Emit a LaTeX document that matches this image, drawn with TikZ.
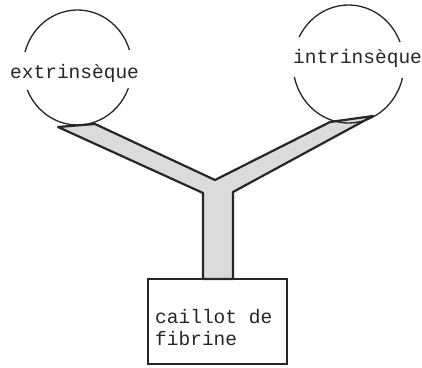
\documentclass[tikz,border=0pt]{standalone}
\usepackage{fontspec}
\setmonofont{Liberation Mono}
\usetikzlibrary{calc}
\begin{document}
\begin{tikzpicture}[x=1pt,y=1pt,
  lbl/.style={font=\ttfamily\fontsize{19.5}{21.7}\selectfont, inner sep=0pt, text=black!85},
  ring/.style={line width=1.3pt, draw=black!85},
  armst/.style={draw=black!85, line width=2.2pt, fill=black!14, line join=round},
  boxst/.style={draw=black!85, line width=1.3pt, minimum width=139pt, minimum height=85pt, inner sep=0pt}]
\useasboundingbox (0,0) rectangle (422,367);
% Y-shaped channel
\coordinate (ltip) at (58,240);
\coordinate (ltop) at (95,243);
\coordinate (notch) at (215,187);
\coordinate (rtop) at (330,245);
\coordinate (rtip) at (373,251);
\coordinate (sr) at (233,175);
\coordinate (srb) at (233,88);
\coordinate (slb) at (203,88);
\coordinate (sl) at (203,174);
\path[armst] (ltip) -- (ltop) -- (notch) -- (rtop) -- (rtip) -- (sr) -- (srb) -- (slb) -- (sl) -- cycle;
% circles
\coordinate (cl) at (77.5,299.5);
\coordinate (cr) at (348.5,303);
\draw[ring] ($(cl)+(17.7:54.5 and 57.5)$) arc[start angle=17.7, end angle=164.4, x radius=54.5, y radius=57.5];
\draw[ring] ($(cl)+(203:54.5 and 57.5)$) arc[start angle=203, end angle=339, x radius=54.5, y radius=57.5];
\draw[ring] ($(cr)+(21.9:55.5 and 59)$) arc[start angle=21.9, end angle=152.8, x radius=55.5, y radius=59];
\draw[ring] ($(cr)+(192.7:55.5 and 59)$) arc[start angle=192.7, end angle=346.3, x radius=55.5, y radius=59];
\node[lbl, anchor=base west] (ext) at (10,288) {extrinsèque};
\node[lbl, anchor=base west] (int) at (293,303.5) {intrinsèque};
% box
\node[boxst] (box) at (217.5,45.5) {};
\node[lbl, anchor=base west] (cf1) at (155,43.7) {caillot de};
\node[lbl, anchor=base west] (cf2) at (155,22) {fibrine};
\end{tikzpicture}
\end{document}
